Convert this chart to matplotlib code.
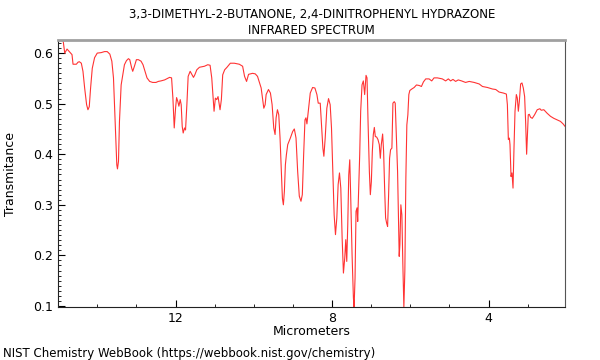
import matplotlib
matplotlib.use("Agg")
import matplotlib.pyplot as plt
import matplotlib.ticker as ticker

# spectrum, wavelength in micrometers
wavelength = [
    14.96, 14.876, 14.833, 14.774, 14.681, 14.647, 14.621, 14.536, 14.494, 14.460,
    14.409, 14.367, 14.324, 14.274, 14.240, 14.206, 14.172, 14.129, 14.070, 14.002,
    13.900, 13.816, 13.748, 13.680, 13.629, 13.587, 13.544, 13.502, 13.485, 13.459,
    13.434, 13.391, 13.349, 13.307, 13.256, 13.205, 13.171, 13.120, 13.095, 13.052,
    13.001, 12.950, 12.882, 12.832, 12.781, 12.730, 12.662, 12.586, 12.501, 12.441,
    12.374, 12.280, 12.153, 12.102, 12.068, 12.034, 12.000, 11.974, 11.941, 11.915,
    11.881, 11.856, 11.830, 11.805, 11.771, 11.745, 11.711, 11.678, 11.627, 11.584,
    11.542, 11.508, 11.457, 11.389, 11.262, 11.177, 11.118, 11.075, 11.016, 10.982,
    10.948, 10.914, 10.863, 10.829, 10.795, 10.745, 10.685, 10.600, 10.499, 10.371,
    10.286, 10.236, 10.185, 10.134, 10.032, 9.964, 9.905, 9.837, 9.812, 9.744,
    9.710, 9.685, 9.625, 9.575, 9.532, 9.490, 9.456, 9.430, 9.396, 9.362,
    9.329, 9.295, 9.269, 9.244, 9.218, 9.193, 9.167, 9.133, 9.066, 9.006,
    8.964, 8.921, 8.879, 8.837, 8.794, 8.760, 8.726, 8.692, 8.667, 8.642,
    8.599, 8.557, 8.497, 8.438, 8.387, 8.353, 8.302, 8.268, 8.234, 8.209,
    8.175, 8.133, 8.090, 8.048, 8.014, 7.980, 7.946, 7.912, 7.878, 7.844,
    7.810, 7.776, 7.742, 7.709, 7.675, 7.649, 7.624, 7.598, 7.573, 7.547,
    7.522, 7.488, 7.454, 7.437, 7.412, 7.387, 7.361, 7.344, 7.319, 7.293,
    7.268, 7.234, 7.200, 7.166, 7.131, 7.106, 7.080, 7.046, 7.021, 6.995,
    6.970, 6.945, 6.919, 6.894, 6.860, 6.826, 6.792, 6.766, 6.741, 6.707,
    6.682, 6.656, 6.631, 6.605, 6.580, 6.554, 6.529, 6.504, 6.470, 6.444,
    6.410, 6.385, 6.359, 6.325, 6.300, 6.283, 6.266, 6.241, 6.215, 6.190,
    6.164, 6.139, 6.113, 6.088, 6.062, 6.037, 6.012, 5.961, 5.901, 5.842,
    5.774, 5.715, 5.664, 5.605, 5.520, 5.452, 5.393, 5.308, 5.181, 5.096,
    5.028, 4.969, 4.909, 4.841, 4.774, 4.689, 4.587, 4.494, 4.367, 4.239,
    4.155, 4.027, 3.900, 3.815, 3.730, 3.620, 3.544, 3.518, 3.493, 3.467,
    3.451, 3.425, 3.400, 3.374, 3.349, 3.323, 3.289, 3.264, 3.238, 3.213,
    3.179, 3.145, 3.111, 3.077, 3.052, 3.026, 3.009, 2.984, 2.958, 2.925,
    2.882, 2.823, 2.755, 2.687, 2.653, 2.586, 2.501, 2.416, 2.331, 2.246,
    2.162, 2.094, 2.043,
]

transmittance = [
    0.626, 0.626, 0.600, 0.608, 0.600, 0.597, 0.578, 0.578, 0.582, 0.583,
    0.580, 0.564, 0.531, 0.498, 0.488, 0.494, 0.531, 0.570, 0.591, 0.600,
    0.601, 0.603, 0.603, 0.598, 0.584, 0.551, 0.465, 0.379, 0.371, 0.386,
    0.465, 0.537, 0.557, 0.577, 0.585, 0.589, 0.587, 0.570, 0.564, 0.574,
    0.587, 0.587, 0.584, 0.577, 0.564, 0.551, 0.544, 0.542, 0.542, 0.544,
    0.545, 0.547, 0.552, 0.551, 0.511, 0.452, 0.491, 0.512, 0.504, 0.495,
    0.508, 0.498, 0.455, 0.442, 0.452, 0.448, 0.498, 0.554, 0.564, 0.558,
    0.552, 0.557, 0.567, 0.572, 0.574, 0.577, 0.576, 0.551, 0.485, 0.511,
    0.508, 0.514, 0.488, 0.508, 0.557, 0.567, 0.572, 0.580, 0.580, 0.578,
    0.574, 0.554, 0.544, 0.558, 0.560, 0.559, 0.554, 0.537, 0.531, 0.491,
    0.498, 0.518, 0.528, 0.521, 0.498, 0.452, 0.439, 0.472, 0.488, 0.478,
    0.432, 0.366, 0.313, 0.300, 0.327, 0.379, 0.399, 0.419, 0.432, 0.445,
    0.450, 0.432, 0.366, 0.317, 0.307, 0.320, 0.399, 0.468, 0.472, 0.460,
    0.491, 0.521, 0.532, 0.531, 0.518, 0.501, 0.501, 0.458, 0.412, 0.396,
    0.432, 0.491, 0.510, 0.498, 0.452, 0.366, 0.280, 0.241, 0.274, 0.340,
    0.363, 0.333, 0.234, 0.165, 0.195, 0.231, 0.188, 0.261, 0.359, 0.389,
    0.313, 0.201, 0.116, 0.097, 0.155, 0.287, 0.294, 0.267, 0.333, 0.399,
    0.485, 0.537, 0.545, 0.518, 0.556, 0.551, 0.465, 0.366, 0.320, 0.346,
    0.406, 0.439, 0.453, 0.435, 0.434, 0.429, 0.419, 0.392, 0.419, 0.440,
    0.406, 0.333, 0.274, 0.264, 0.257, 0.320, 0.392, 0.409, 0.412, 0.501,
    0.504, 0.501, 0.445, 0.366, 0.267, 0.198, 0.221, 0.300, 0.280, 0.182,
    0.097, 0.169, 0.353, 0.458, 0.478, 0.518, 0.526, 0.529, 0.532, 0.537,
    0.536, 0.534, 0.543, 0.549, 0.549, 0.545, 0.551, 0.551, 0.549, 0.545,
    0.549, 0.545, 0.548, 0.544, 0.547, 0.545, 0.542, 0.544, 0.542, 0.539,
    0.534, 0.532, 0.529, 0.528, 0.523, 0.521, 0.519, 0.498, 0.429, 0.432,
    0.419, 0.356, 0.363, 0.333, 0.412, 0.485, 0.518, 0.511, 0.485, 0.504,
    0.539, 0.541, 0.531, 0.514, 0.465, 0.400, 0.432, 0.478, 0.479, 0.473,
    0.471, 0.478, 0.488, 0.490, 0.487, 0.488, 0.481, 0.475, 0.471, 0.468,
    0.465, 0.460, 0.455,
]

title = "3,3-DIMETHYL-2-BUTANONE, 2,4-DINITROPHENYL HYDRAZONE\nINFRARED SPECTRUM"
source = "NIST Chemistry WebBook (https://webbook.nist.gov/chemistry)"

fig = plt.figure(figsize=(6, 3.6), dpi=100)
ax = fig.add_axes([0.097, 0.146, 0.845, 0.743])

ax.plot(wavelength, transmittance, color="#ff3333", lw=0.8)

ax.set_xlim(15.0, 2.04)
ax.set_ylim(0.097, 0.626)

ax.xaxis.set_major_locator(ticker.MultipleLocator(4))
ax.xaxis.set_minor_locator(ticker.MultipleLocator(1))
ax.yaxis.set_major_locator(ticker.MultipleLocator(0.1))
ax.yaxis.set_minor_locator(ticker.MultipleLocator(0.01))
ax.xaxis.set_major_formatter(ticker.FormatStrFormatter("%d"))
ax.yaxis.set_major_formatter(ticker.FormatStrFormatter("%.1f"))

ax.tick_params(which="major", direction="in", length=5, width=0.8, labelsize=9)
ax.tick_params(which="minor", direction="in", length=2.5, width=0.6)
ax.tick_params(axis="x", which="major", pad=3)

ax.spines["top"].set_color("#a0a0a0")
ax.spines["top"].set_linewidth(2)
ax.spines["right"].set_color("#555555")
ax.spines["left"].set_color("#222222")
ax.spines["bottom"].set_color("#222222")

ax.set_xlabel("Micrometers", fontsize=9, labelpad=0)
ax.set_ylabel("Transmitance", fontsize=9)
ax.yaxis.set_label_coords(-0.081, 0.5)
ax.set_title(title, fontsize=8.5, pad=4, linespacing=1.35)

fig.text(0.005, 0.019, source, fontsize=8.5, ha="left", va="center")

fig.savefig("out.png", dpi=100)
